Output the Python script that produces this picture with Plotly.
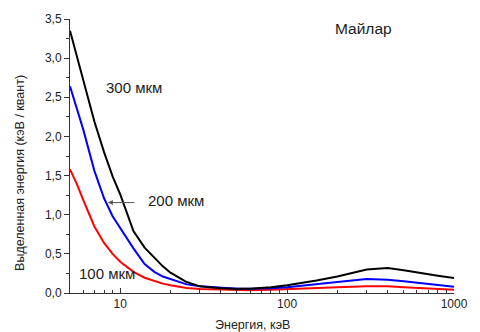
import plotly.graph_objects as go
import math

energy = [5, 5.5, 6, 7, 8, 9, 10, 12, 14, 16, 18, 20, 25, 30, 40, 50, 60, 80,
          100, 150, 200, 300, 400, 500, 600, 800, 1000]
e300 = [3.35, 3.02, 2.71, 2.19, 1.80, 1.49, 1.26, 0.79, 0.58, 0.45, 0.34, 0.26, 0.14, 0.085,
        0.06, 0.055, 0.055, 0.075, 0.10, 0.16, 0.21, 0.30, 0.32, 0.29, 0.26, 0.22, 0.19]
e200 = [2.64, 2.36, 2.09, 1.56, 1.21, 0.98, 0.83, 0.57, 0.37, 0.27, 0.21, 0.175, 0.11, 0.085,
        0.065, 0.055, 0.055, 0.06, 0.075, 0.11, 0.14, 0.18, 0.17, 0.15, 0.13, 0.10, 0.08]
e100 = [1.58, 1.39, 1.19, 0.85, 0.64, 0.50, 0.40, 0.27, 0.195, 0.15, 0.12, 0.10, 0.065, 0.05,
        0.04, 0.035, 0.035, 0.04, 0.05, 0.065, 0.075, 0.085, 0.085, 0.075, 0.065, 0.05, 0.04]

x_ticks = [10, 100, 1000]
x_ticktext = ["10", "100", "1000"]
x_minor = [6, 7, 8, 9, 20, 30, 40, 50, 60, 70, 80, 90, 200, 300, 400, 500, 600, 700, 800, 900]
y_ticks = [0, 0.5, 1.0, 1.5, 2.0, 2.5, 3.0, 3.5]
y_ticktext = ["0,0", "0,5", "1,0", "1,5", "2,0", "2,5", "3,0", "3,5"]

fig = go.Figure()
for vals, col in [(e100, "#ff0000"), (e200, "#0000ff"), (e300, "#000000")]:
    fig.add_trace(go.Scatter(x=energy, y=vals, mode="lines",
                             line=dict(color=col, width=2), showlegend=False))

axis_col = "#333333"
fig.update_layout(
    width=480, height=332,
    margin=dict(l=70, r=15, t=17, b=39),
    paper_bgcolor="white", plot_bgcolor="white",
    font=dict(family="Liberation Sans, Arial, sans-serif", color="#222", size=12),
    xaxis=dict(type="log", range=[math.log10(5), 3], showgrid=False, zeroline=False,
               showline=True, linecolor=axis_col, linewidth=1,
               tickvals=x_ticks, ticktext=x_ticktext, ticks="inside", ticklen=5,
               tickcolor=axis_col, tickfont=dict(size=12),
               minor=dict(tickvals=x_minor, ticks="inside", ticklen=3, tickcolor=axis_col)),
    yaxis=dict(range=[0, 3.5], showgrid=False, zeroline=False,
               showline=True, linecolor=axis_col, linewidth=1,
               tickvals=y_ticks, ticktext=y_ticktext, ticks="outside", ticklen=5,
               tickcolor=axis_col, tickfont=dict(size=12),
               minor=dict(dtick=0.25, ticks="outside", ticklen=3, tickcolor=axis_col)),
)

ann = [
    dict(text="Майлар", x=0.765, y=0.967, xanchor="center", font=dict(size=15.5)),
    dict(text="300 мкм", x=0.0886, y=0.75, xanchor="left", font=dict(size=15)),
    dict(text="200 мкм", x=0.197, y=0.337, xanchor="left", font=dict(size=15)),
    dict(text="100 мкм", x=0.0177, y=0.0725, xanchor="left", font=dict(size=15)),
    dict(text="Выделенная энергия (кэВ / квант)", x=-0.129, y=0.44, xanchor="center",
         textangle=-90, font=dict(size=12.5)),
    dict(text="Энергия, кэВ", x=0.476, y=-0.116, xanchor="center", font=dict(size=12.5)),
]
for a in ann:
    fig.add_annotation(xref="paper", yref="paper", yanchor="middle", showarrow=False, **a)

# arrow pointing to the 200 мкм curve
fig.add_annotation(x=math.log10(8.43), y=1.155, xref="x", yref="y", text="",
                   showarrow=True, ax=28, ay=0, arrowhead=2, arrowsize=1,
                   arrowwidth=1, arrowcolor="#555555")

fig.write_html("out.html")
